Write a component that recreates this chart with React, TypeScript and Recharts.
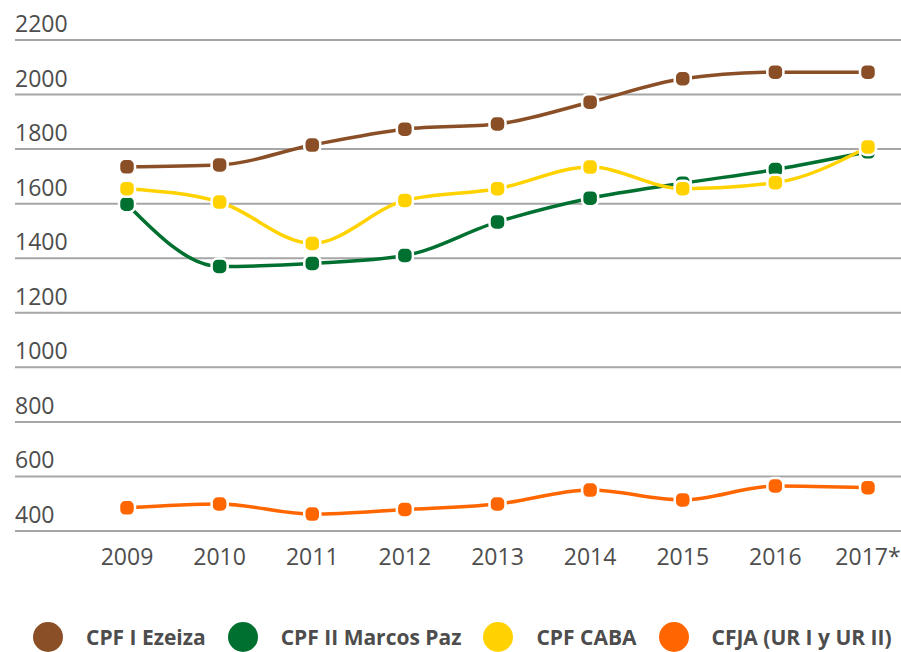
import React from "react";
import { LineChart, Line, XAxis, YAxis, CartesianGrid } from "recharts";

const years = ["2009", "2010", "2011", "2012", "2013", "2014", "2015", "2016", "2017*"];
const ezeiza = [1735, 1742, 1815, 1873, 1892, 1972, 2058, 2082, 2082];
const marcosPaz = [1598, 1370, 1381, 1410, 1533, 1620, 1675, 1725, 1790];
const caba = [1655, 1606, 1454, 1612, 1655, 1734, 1655, 1677, 1808];
const cfja = [485, 499, 462, 479, 499, 550, 514, 565, 559];
const yTicks = [400, 600, 800, 1000, 1200, 1400, 1600, 1800, 2000, 2200];

const seriesNames = ["CPF I Ezeiza", "CPF II Marcos Paz", "CPF CABA", "CFJA (UR I y UR II)"];
const seriesKeys = ["ezeiza", "marcosPaz", "caba", "cfja"];
const seriesColors = ["#8a4f26", "#007030", "#ffd200", "#ff6600"];
const seriesValues = [ezeiza, marcosPaz, caba, cfja];

const data = years.map((y, i) => {
  const row: any = { year: y };
  seriesKeys.forEach((k, j) => (row[k] = seriesValues[j][i]));
  return row;
});

const FONT = "'Open Sans', sans-serif";
const TEXT = "#4d4d4d";

const makeDot = (color: string) => (props: any) => {
  const { cx, cy, index } = props;
  return (
    <rect
      key={`d-${color}-${index}`}
      x={cx - 8}
      y={cy - 8}
      width={16}
      height={16}
      rx={6}
      ry={6}
      fill={color}
      stroke="#ffffff"
      strokeWidth={2.5}
    />
  );
};

const YTick = (props: any) => {
  const { y, payload } = props;
  return (
    <text x={15} y={y - 17} textAnchor="start" dominantBaseline="central" fontFamily={FONT} fontSize={23} fill={TEXT}>
      {payload.value}
    </text>
  );
};

const XTick = (props: any) => {
  const { x, y, payload } = props;
  return (
    <text x={x} y={y + 17} textAnchor="middle" dominantBaseline="central" fontFamily={FONT} fontSize={23} fill={TEXT}>
      {payload.value}
    </text>
  );
};

export default function App() {
  return (
    <div style={{ position: "absolute", left: 0, top: 0, width: 901, height: 652, background: "#fff" }}>
      <LineChart width={901} height={652} data={data} margin={{ top: 40, right: 0, bottom: 81, left: 14 }}>
        <CartesianGrid vertical={false} stroke="#a6a6a6" strokeWidth={2} />
        <XAxis
          dataKey="year"
          height={40}
          axisLine={false}
          tickLine={false}
          tick={<XTick />}
          padding={{ left: 112, right: 33 }}
          interval={0}
        />
        <YAxis
          width={1}
          domain={[400, 2200]}
          ticks={yTicks}
          axisLine={false}
          tickLine={false}
          tick={<YTick />}
          interval={0}
        />
        {seriesKeys.map((k, j) => (
          <Line
            key={k}
            type="monotone"
            dataKey={k}
            stroke={seriesColors[j]}
            strokeWidth={3.5}
            dot={makeDot(seriesColors[j])}
            activeDot={false}
            isAnimationActive={false}
          />
        ))}
      </LineChart>
      <div
        style={{
          position: "absolute",
          left: 33,
          top: 622,
          height: 30,
          display: "flex",
          alignItems: "center",
          fontFamily: FONT,
        }}
      >
        {seriesNames.map((n, j) => (
          <div key={n} style={{ display: "flex", alignItems: "center", marginRight: j < 3 ? 22 : 0 }}>
            <span
              style={{
                display: "inline-block",
                width: 30,
                height: 30,
                borderRadius: 15,
                background: seriesColors[j],
                flexShrink: 0,
              }}
            />
            <span style={{ marginLeft: 23, fontWeight: 700, fontSize: 21, color: TEXT, whiteSpace: "nowrap" }}>{n}</span>
          </div>
        ))}
      </div>
    </div>
  );
}
